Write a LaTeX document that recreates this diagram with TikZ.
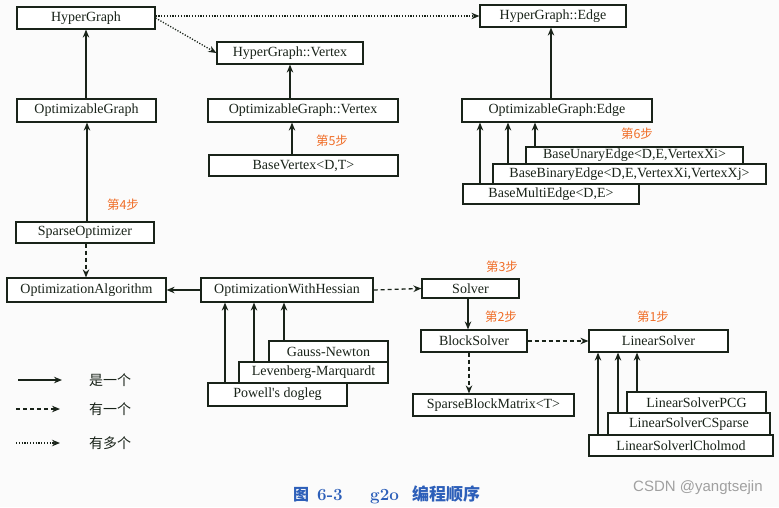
\documentclass[tikz,border=0pt]{standalone}
\usepackage{fontspec}
\newfontfamily\tms{Liberation Serif}
\newfontfamily\cjk{Noto Sans CJK SC}
\newfontfamily\arl{Liberation Sans}
\usetikzlibrary{arrows.meta}
\definecolor{ink}{RGB}{25,35,25}
\definecolor{stepc}{RGB}{240,110,40}
\definecolor{capc}{RGB}{45,95,185}
\definecolor{bgc}{RGB}{251,251,251}
\definecolor{wmk}{RGB}{160,160,160}
\begin{document}
\begin{tikzpicture}[x=1pt,y=-1pt,
  box/.style={draw=ink, line width=1.2pt, fill=white, inner sep=0pt, text=ink,
    font=\tms\fontsize{14}{16}\selectfont},
  isa/.style={draw=ink, line width=1.3pt, -{Stealth[length=8pt,width=6.5pt]}},
  hasone/.style={isa, dash pattern=on 4pt off 3pt},
  hasmany/.style={isa, dash pattern=on 1.2pt off 1.6pt},
  steplbl/.style={text=stepc, font=\cjk\fontsize{12.5}{14}\selectfont},
  leglbl/.style={text=ink, font=\cjk\fontsize{14}{16}\selectfont},
  caplbl/.style={text=capc, inner sep=0pt, anchor=base west}]
\fill[bgc] (0,0) rectangle (779,507);
\useasboundingbox (0,0) rectangle (779,507);

% boxes
\node[box, minimum width=138, minimum height=22] (hg)  at (86,18) {HyperGraph};
\node[box, minimum width=146, minimum height=22] (hgv) at (290,53) {HyperGraph::Vertex};
\node[box, minimum width=146, minimum height=22] (hge) at (553,16) {HyperGraph::Edge};
\node[box, minimum width=139, minimum height=23] (og)  at (86.5,110.5) {OptimizableGraph};
\node[box, minimum width=190, minimum height=23] (ogv) at (303,110.5) {OptimizableGraph::Vertex};
\node[box, minimum width=189, minimum height=21] (bv)  at (303.5,165.5) {BaseVertex<D,T>};
\node[box, minimum width=190, minimum height=23] (oge) at (557,110.5) {OptimizableGraph:Edge};
\node[box, minimum width=217, minimum height=17] (bue) at (634.5,155.5) {BaseUnaryEdge<D,E,VertexXi>};
\node[box, minimum width=273, minimum height=20] (bbe) at (629.5,174) {BaseBinaryEdge<D,E,VertexXi,VertexXj>};
\node[box, minimum width=176, minimum height=20] (bme) at (551,194) {BaseMultiEdge<D,E>};
\node[box, minimum width=138, minimum height=21] (so)  at (85,232.5) {SparseOptimizer};
\node[box, minimum width=159, minimum height=24] (oa)  at (86.5,290) {OptimizationAlgorithm};
\node[box, minimum width=172, minimum height=24] (owh) at (287,290) {OptimizationWithHessian};
\node[box, minimum width=119, minimum height=21] (gn)  at (328.5,351.5) {Gauss-Newton};
\node[box, minimum width=149, minimum height=21] (lm)  at (313.5,372.5) {Levenberg-Marquardt};
\node[box, minimum width=139, minimum height=23] (pd)  at (277.5,394.5) {Powell's dogleg};
\node[box, minimum width=97, minimum height=19] (sol)  at (470.5,288.5) {Solver};
\node[box, minimum width=106, minimum height=22] (bs)  at (474,341) {BlockSolver};
\node[box, minimum width=139, minimum height=22] (ls)  at (658.5,341) {LinearSolver};
\node[box, minimum width=161, minimum height=22] (sbm) at (493.5,405) {SparseBlockMatrix<T>};
\node[box, minimum width=139, minimum height=21] (pcg) at (696.5,402.5) {LinearSolverPCG};
\node[box, minimum width=162, minimum height=22] (csp) at (689,424) {LinearSolverCSparse};
\node[box, minimum width=184, minimum height=21] (chol) at (681,445.5) {LinearSolverlCholmod};

% step labels
\node[steplbl] (s5) at (332,141) {第5步};
\node[steplbl] (s6) at (637,134) {第6步};
\node[steplbl] (s4) at (123,205) {第4步};
\node[steplbl] (s3) at (502,267) {第3步};
\node[steplbl] (s2) at (501,317) {第2步};
\node[steplbl] (s1) at (653,317) {第1步};

% x positions for arrows
\coordinate (xso) at (87,0);
\coordinate (xsoa) at (86,0);
\coordinate (xsol) at (468,0);
\coordinate (xbs) at (469,0);
\coordinate (xbv) at (292,0);
\coordinate (xoge) at (551,0);
\coordinate (xe1) at (480,0);
\coordinate (xe2) at (508,0);
\coordinate (xe3) at (535,0);
\coordinate (xo1) at (225,0);
\coordinate (xo2) at (254,0);
\coordinate (xo3) at (284,0);
\coordinate (xl1) at (598,0);
\coordinate (xl2) at (618,0);
\coordinate (xl3) at (637,0);

% connectors
\draw[hasmany] (hge.west -| hg.east) -- (hge.west);
\draw[hasmany] (hg.east) -- (hgv.west);
\draw[isa] (og.north -| hg.south) -- (hg.south);
\draw[isa] (so.north -| xso) -- (og.south -| xso);
\draw[isa] (ogv.north -| hgv.south) -- (hgv.south);
\draw[isa] (bv.north -| xbv) -- (ogv.south -| xbv);
\draw[isa] (oge.north -| xoge) -- (hge.south -| xoge);
\draw[isa] (bme.north -| xe1) -- (oge.south -| xe1);
\draw[isa] (bbe.north -| xe2) -- (oge.south -| xe2);
\draw[isa] (bue.north -| xe3) -- (oge.south -| xe3);
\draw[hasone] (so.south -| xsoa) -- (oa.north -| xsoa);
\draw[isa] (owh.west) -- (oa.east);
\draw[isa] (pd.north -| xo1) -- (owh.south -| xo1);
\draw[isa] (lm.north -| xo2) -- (owh.south -| xo2);
\draw[isa] (gn.north -| xo3) -- (owh.south -| xo3);
\draw[hasone] (owh.east) -- (sol.west);
\draw[isa] (sol.south -| xsol) -- (bs.north -| xsol);
\draw[hasone] (bs.east) -- (ls.west);
\draw[hasone] (bs.south -| xbs) -- (sbm.north -| xbs);
\draw[isa] (chol.north -| xl1) -- (ls.south -| xl1);
\draw[isa] (csp.north -| xl2) -- (ls.south -| xl2);
\draw[isa] (pcg.north -| xl3) -- (ls.south -| xl3);

% legend
\coordinate (lg1s) at (18,380);
\coordinate (lg1e) at (62,380);
\coordinate (lg2s) at (16,409);
\coordinate (lg2e) at (60,409);
\coordinate (lg3s) at (16,443);
\coordinate (lg3e) at (60,443);
\draw[isa] (lg1s) -- (lg1e);
\draw[hasone] (lg2s) -- (lg2e);
\draw[hasmany] (lg3s) -- (lg3e);
\node[leglbl] (lt1) at (110,380) {是一个};
\node[leglbl] (lt2) at (110,409) {有一个};
\node[leglbl] (lt3) at (110,443) {有多个};

% caption
\node[caplbl, font=\cjk\bfseries\fontsize{16}{18}\selectfont] (cap1) at (293,500) {图};
\node[caplbl, font=\fontsize{17}{19}\selectfont\bfseries] (cap2) at (317,500) {6-3};
\node[caplbl, font=\fontsize{17}{19}\selectfont\bfseries] (cap3) at (370,500) {g2o};
\node[caplbl, font=\cjk\bfseries\fontsize{17}{19}\selectfont] (cap4) at (412,500) {编程顺序};
\node[anchor=west, text=wmk, inner sep=0pt, font=\arl\fontsize{15}{17}\selectfont] (wm) at (633,488) {CSDN @yangtsejin};
\end{tikzpicture}
\end{document}
